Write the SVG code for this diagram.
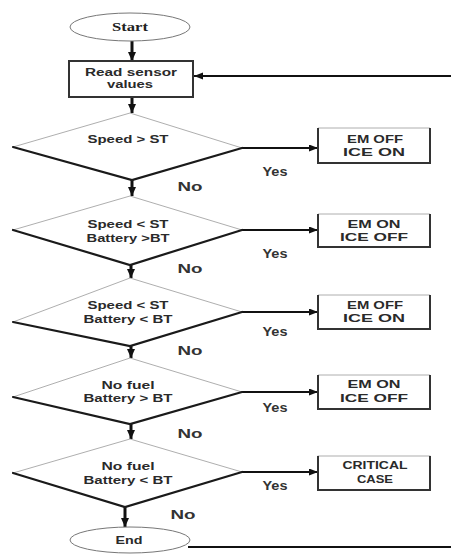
<svg xmlns="http://www.w3.org/2000/svg" width="451" height="555" viewBox="0 0 451 555">
<style>
.bg{fill:#fff}
.thin{fill:none;stroke:#999;stroke-width:0.8}
.thick{fill:none;stroke:#1a1a1a;stroke-width:2.2;stroke-linecap:round}
.box{fill:none;stroke:#333;stroke-width:2}
.t{font-family:"Liberation Sans",Arial,sans-serif;font-weight:bold;fill:#2a2a2a;text-anchor:middle}
.s{font-size:10.5px}
.b{font-size:11.5px}
.lbl{font-family:"Liberation Sans",Arial,sans-serif;font-weight:bold;font-size:13px;fill:#333;text-anchor:middle}
.va{stroke:#111;stroke-width:3;fill:none}
.ha{stroke:#111;stroke-width:2;fill:none}
</style>
<defs>
<marker id="hv" markerUnits="userSpaceOnUse" markerWidth="10" markerHeight="8" refX="9" refY="4" orient="auto"><path d="M0,0 L9,4 L0,8 Z" fill="#111"/></marker>
<marker id="hh" markerUnits="userSpaceOnUse" markerWidth="10" markerHeight="8" refX="9" refY="3.5" orient="auto"><path d="M0,0 L9,3.5 L0,7 Z" fill="#111"/></marker>
</defs>
<rect class="bg" width="451" height="555"/>
<g id="connectors">
<line class="va" x1="132" y1="41" x2="132" y2="61" marker-end="url(#hv)"/>
<line class="va" x1="132" y1="97" x2="132" y2="113" marker-end="url(#hv)"/>
<line class="va" x1="132" y1="180" x2="132" y2="196" marker-end="url(#hv)"/>
<line class="va" x1="131" y1="265" x2="131" y2="278" marker-end="url(#hv)"/>
<line class="va" x1="131" y1="346" x2="131" y2="358" marker-end="url(#hv)"/>
<line class="va" x1="131" y1="424" x2="131" y2="439" marker-end="url(#hv)"/>
<line class="va" x1="125" y1="507" x2="125" y2="527" marker-end="url(#hv)"/>
<line class="ha" x1="242" y1="148" x2="318" y2="148" marker-end="url(#hh)"/>
<line class="ha" x1="242" y1="230" x2="318" y2="230" marker-end="url(#hh)"/>
<line class="ha" x1="242" y1="312" x2="318" y2="312" marker-end="url(#hh)"/>
<line class="ha" x1="242" y1="392" x2="318" y2="392" marker-end="url(#hh)"/>
<line class="ha" x1="242" y1="472" x2="318" y2="472" marker-end="url(#hh)"/>
<line class="ha" x1="451" y1="76" x2="194" y2="76" marker-end="url(#hh)"/>
<line class="ha" x1="188" y1="547" x2="451" y2="547"/>
<text class="lbl" x="275" y="176" textLength="25" lengthAdjust="spacingAndGlyphs">Yes</text>
<text class="lbl" x="275" y="258" textLength="25" lengthAdjust="spacingAndGlyphs">Yes</text>
<text class="lbl" x="275" y="336" textLength="25" lengthAdjust="spacingAndGlyphs">Yes</text>
<text class="lbl" x="275" y="412" textLength="25" lengthAdjust="spacingAndGlyphs">Yes</text>
<text class="lbl" x="275" y="490" textLength="25" lengthAdjust="spacingAndGlyphs">Yes</text>
<text class="lbl" x="190" y="191" textLength="25" lengthAdjust="spacingAndGlyphs">No</text>
<text class="lbl" x="190" y="273" textLength="25" lengthAdjust="spacingAndGlyphs">No</text>
<text class="lbl" x="190" y="355" textLength="25" lengthAdjust="spacingAndGlyphs">No</text>
<text class="lbl" x="190" y="438" textLength="25" lengthAdjust="spacingAndGlyphs">No</text>
<text class="lbl" x="183" y="519" textLength="25" lengthAdjust="spacingAndGlyphs">No</text>
</g>
<g id="start">
<ellipse cx="130" cy="27" rx="60" ry="14" fill="#fff" stroke="#777" stroke-width="1"/>
<text x="130" y="31" font-family="'Liberation Serif','Times New Roman',serif" font-weight="bold" font-size="11.5" fill="#222" text-anchor="middle" textLength="36" lengthAdjust="spacingAndGlyphs">Start</text>
</g>
<g id="read">
<rect class="box" x="69" y="61" width="124" height="36" fill="#fff"/>
<text class="t b" x="131" y="76" textLength="92" lengthAdjust="spacingAndGlyphs">Read sensor</text>
<text class="t b" x="130" y="88" textLength="46" lengthAdjust="spacingAndGlyphs">values</text>
</g>
<g id="d1">
<path class="thin" d="M13,147 L130,113 L242,148"/>
<path class="thick" d="M13,147 L132,180 L242,148"/>
<text class="t s" x="128" y="143" textLength="81" lengthAdjust="spacingAndGlyphs">Speed &gt; ST</text>
</g>
<g id="d2">
<path class="thin" d="M13,230 L130,196 L242,230"/>
<path class="thick" d="M13,230 L130,265 L242,230"/>
<text class="t s" x="128" y="228" textLength="81" lengthAdjust="spacingAndGlyphs">Speed &lt; ST</text>
<text class="t s" x="128" y="242" textLength="83" lengthAdjust="spacingAndGlyphs">Battery &gt;BT</text>
</g>
<g id="d3">
<path class="thin" d="M13,322 L130,278 L242,312"/>
<path class="thick" d="M13,322 L130,346 L242,312"/>
<text class="t s" x="128" y="309" textLength="81" lengthAdjust="spacingAndGlyphs">Speed  &lt; ST</text>
<text class="t s" x="128" y="323" textLength="89" lengthAdjust="spacingAndGlyphs">Battery &lt; BT</text>
</g>
<g id="d4">
<path class="thin" d="M13,397 L130,358 L242,392"/>
<path class="thick" d="M13,397 L130,424 L242,392"/>
<text class="t s" x="128" y="389" textLength="53" lengthAdjust="spacingAndGlyphs">No fuel</text>
<text class="t s" x="128" y="402" textLength="89" lengthAdjust="spacingAndGlyphs">Battery &gt; BT</text>
</g>
<g id="d5">
<path class="thin" d="M13,473 L130,439 L242,472"/>
<path class="thick" d="M13,473 L125,507 L242,472"/>
<text class="t s" x="128" y="470" textLength="53" lengthAdjust="spacingAndGlyphs">No fuel</text>
<text class="t s" x="128" y="484" textLength="89" lengthAdjust="spacingAndGlyphs">Battery &lt; BT</text>
</g>
<g id="b1">
<path class="thin" d="M318,128 L430,128"/>
<path class="box" d="M318,128 L318,163 L430,163 L430,128"/>
<text class="t s" x="375" y="143" textLength="56" lengthAdjust="spacingAndGlyphs">EM OFF</text>
<text class="t b" x="374" y="156" textLength="62" lengthAdjust="spacingAndGlyphs">ICE ON</text>
</g>
<g id="b2">
<path class="thin" d="M318,214 L430,214"/>
<path class="box" d="M318,214 L318,247 L430,247 L430,214"/>
<text class="t s" x="374" y="228" textLength="53" lengthAdjust="spacingAndGlyphs">EM ON</text>
<text class="t b" x="374" y="241" textLength="68" lengthAdjust="spacingAndGlyphs">ICE OFF</text>
</g>
<g id="b3">
<path class="thin" d="M318,295 L430,295"/>
<path class="box" d="M318,295 L318,329 L430,329 L430,295"/>
<text class="t s" x="375" y="309" textLength="56" lengthAdjust="spacingAndGlyphs">EM OFF</text>
<text class="t b" x="374" y="322" textLength="62" lengthAdjust="spacingAndGlyphs">ICE ON</text>
</g>
<g id="b4">
<path class="thin" d="M318,375 L430,375"/>
<path class="box" d="M318,375 L318,409 L430,409 L430,375"/>
<text class="t s" x="374" y="388" textLength="53" lengthAdjust="spacingAndGlyphs">EM ON</text>
<text class="t b" x="374" y="402" textLength="68" lengthAdjust="spacingAndGlyphs">ICE OFF</text>
</g>
<g id="b5">
<rect x="318" y="456" width="112" height="34" fill="#fff" stroke="#999" stroke-width="0.8"/>
<path class="box" d="M318,456 L318,490 L430,490 L430,456"/>
<text class="t s" x="375" y="469" textLength="65" lengthAdjust="spacingAndGlyphs">CRITICAL</text>
<text class="t s" x="375" y="483" textLength="36" lengthAdjust="spacingAndGlyphs">CASE</text>
</g>
<g id="end">
<ellipse cx="130" cy="540" rx="60" ry="13" fill="#fff" stroke="#777" stroke-width="1"/>
<text class="t s" x="129" y="544" textLength="27" lengthAdjust="spacingAndGlyphs">End</text>
</g>
</svg>
